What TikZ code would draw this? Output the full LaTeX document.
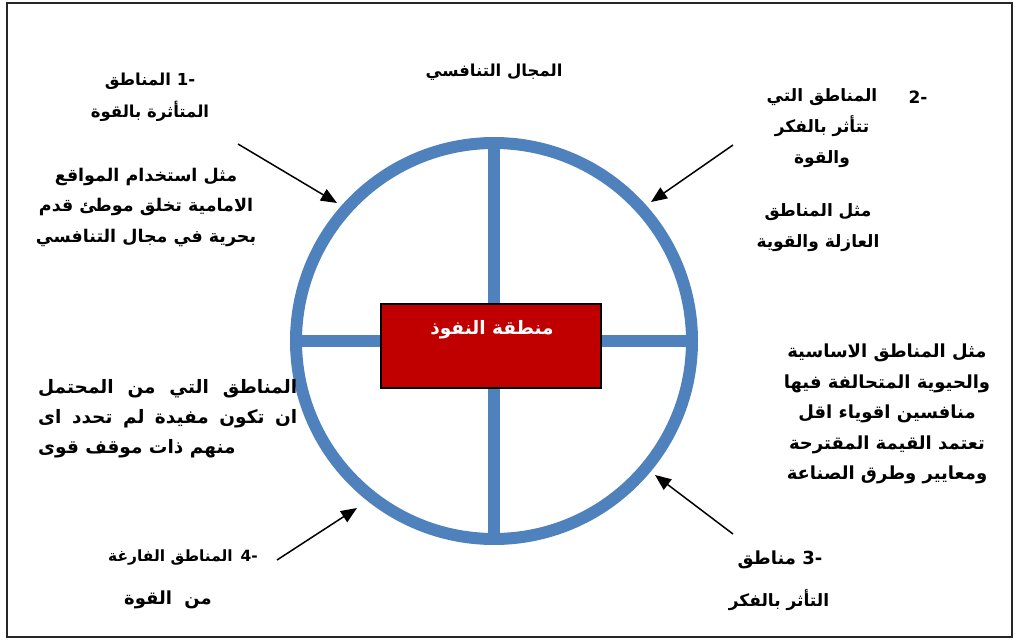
\documentclass[tikz,border=0pt]{standalone}
\usepackage{fontspec}
\newfontfamily\arabicfont[Script=Arabic]{DejaVu Sans}
\TeXXeTstate=1
\usetikzlibrary{arrows.meta}
\definecolor{ringblue}{HTML}{4F81BD}
\definecolor{boxred}{HTML}{C00000}
\tikzset{
  lbl/.style={font=\arabicfont\bfseries\fontsize{17}{31}\selectfont, inner sep=0pt, align=center, text=black},
  pointer/.style={line width=1.5pt, -{Triangle[length=16pt,width=13pt]}},
  ringline/.style={draw=ringblue, line width=12pt},
}
\begin{document}
\begin{tikzpicture}[x=1pt,y=-1pt]
\useasboundingbox (0,0) rectangle (1018,640);
\draw[line width=1.6pt, draw=black!85] (7,3) rectangle (1012,637);

% ring and cross
\node[circle, ringline, minimum size=396pt, inner sep=0pt, outer sep=0pt] (ring) at (494,341) {};
\draw[ringline] (ring.north) -- (ring.south);
\draw[ringline] (ring.west) -- (ring.east);

% centre box
\node[draw=black, line width=1.2pt, fill=boxred, minimum width=220pt, minimum height=84pt, inner sep=0pt] (box) at (491,346) {};
\node[lbl, text=white, font=\arabicfont\bfseries\fontsize{18.5}{22}\selectfont] (boxtxt) at (492,330) {\beginR منطقة النفوذ\endR};

% title
\node[lbl, font=\arabicfont\bfseries\fontsize{16.5}{31}\selectfont] (title) at (494,72) {\beginR المجال التنافسي\endR};

% zone 1
\node[lbl, font=\arabicfont\bfseries\fontsize{16.5}{32}\selectfont] (z1) at (150,97) {\beginR\beginL-1\endL\ المناطق\endR\\\beginR المتأثرة بالقوة\endR};
\node[lbl, font=\arabicfont\bfseries\fontsize{17.5}{30.5}\selectfont] (z1d) at (146,207) {\beginR مثل استخدام المواقع\endR\\\beginR الامامية تخلق موطئ قدم\endR\\\beginR بحرية في مجال التنافسي\endR};

% zone 2
\node[lbl] (n2) at (918,97) {\beginL-2\endL};
\node[lbl] (z2) at (822,128) {\beginR المناطق التي\endR\\\beginR تتأثر بالفكر\endR\\\beginR والقوة\endR};
\node[lbl] (z2d) at (818,228) {\beginR مثل المناطق\endR\\\beginR العازلة والقوية\endR};

% zone 3
\node[lbl, font=\arabicfont\bfseries\fontsize{18}{30.5}\selectfont] (z3d) at (887,414) {\beginR مثل المناطق الاساسية\endR\\\beginR والحيوية المتحالفة فيها\endR\\\beginR منافسين اقوياء اقل\endR\\\beginR تعتمد القيمة المقترحة\endR\\\beginR ومعايير وطرق الصناعة\endR};
\node[lbl, font=\arabicfont\bfseries\fontsize{18}{31}\selectfont] (z3a) at (780,560) {\beginR\beginL-3\endL\ مناطق\endR};
\node[lbl] (z3b) at (779,600) {\beginR التأثر بالفكر\endR};

% zone 4
\node[lbl, align=left, anchor=west, font=\arabicfont\bfseries\fontsize{18.5}{30}\selectfont] (z4d) at (38,419) {\hbox to 259pt{\spaceskip=0.3em plus 1fil\beginR المناطق التي من المحتمل\endR}\\\hbox to 259pt{\spaceskip=0.3em plus 1fil\beginR ان تكون مفيدة لم تحدد اى\endR}\\\beginR منهم ذات موقف قوى\endR};
\node[lbl, font=\arabicfont\bfseries\fontsize{15.5}{31}\selectfont] (z4a) at (183,558) {\beginR\beginL-4\endL\hspace{0.5em}المناطق الفارغة\endR};
\node[lbl, font=\arabicfont\bfseries\fontsize{18}{31}\selectfont] (z4b) at (168,600) {\beginR من \ القوة\endR};

% arrows
\coordinate (a1s) at (238,144); \coordinate (a1e) at (337,203);
\coordinate (a2s) at (733,145); \coordinate (a2e) at (651,202);
\coordinate (a3s) at (733,534); \coordinate (a3e) at (655,475);
\coordinate (a4s) at (277,560); \coordinate (a4e) at (357,508);
\draw[pointer] (a1s) -- (a1e);
\draw[pointer] (a2s) -- (a2e);
\draw[pointer] (a3s) -- (a3e);
\draw[pointer] (a4s) -- (a4e);
\end{tikzpicture}
\end{document}
